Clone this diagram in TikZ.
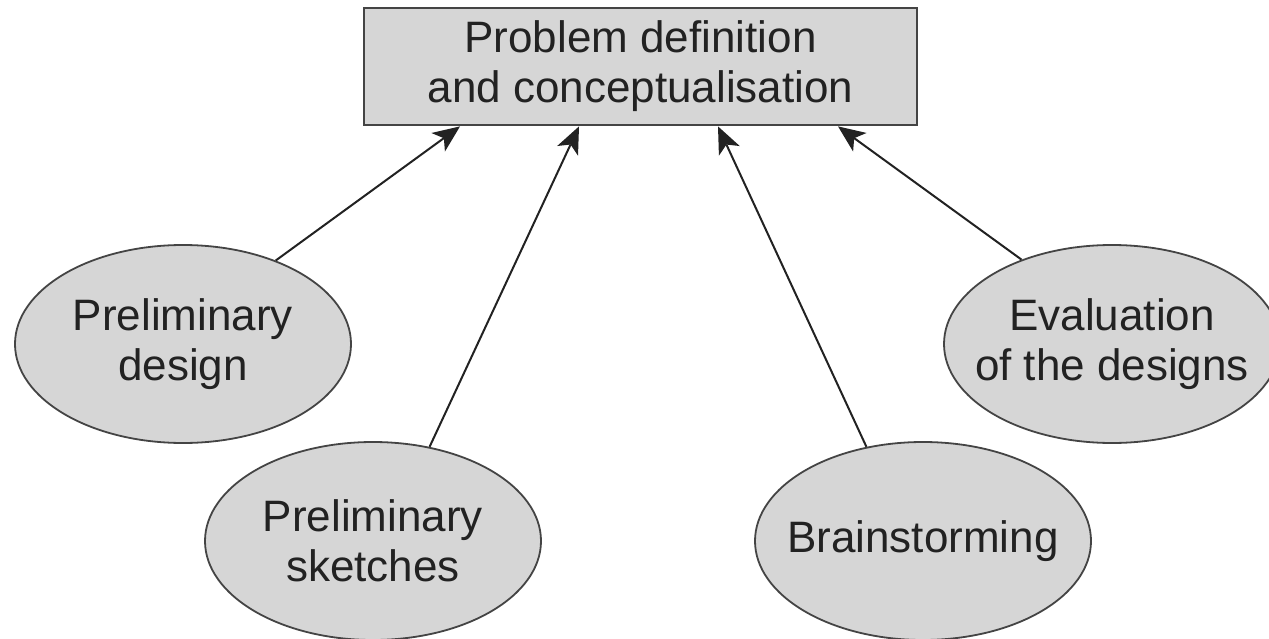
\documentclass[tikz,border=0pt]{standalone}
\usepackage{fontspec}
\setmainfont{Liberation Sans}
\usetikzlibrary{shapes.geometric,arrows.meta}
\definecolor{boxfill}{HTML}{D6D6D6}
\definecolor{edge}{HTML}{444444}
\definecolor{ink}{HTML}{222222}
\begin{document}
\begin{tikzpicture}[x=1pt,y=-1pt,
  idea/.style={ellipse, draw=edge, line width=1.8pt, fill=boxfill,
    minimum width=336pt, minimum height=198pt, inner sep=0pt},
  words/.style={font=\fontsize{44}{50}\selectfont, text=ink, align=center, inner sep=0pt},
  goalbox/.style={rectangle, draw=edge, line width=2.8pt, fill=boxfill,
    minimum width=553pt, minimum height=117pt, inner sep=0pt},
  flow/.style={draw=ink, line width=2pt},
  flowtip/.style={-{Stealth[length=27pt,width=23pt,inset=7pt,line width=0pt]}}]
\useasboundingbox (0,0) rectangle (1269,639);

% central box
\node[goalbox] (goal) at (640.5,66.5) {};
\node[words] (goaltext) at (goal) {Problem definition\\and conceptualisation};

% surrounding ellipses
\node[idea] (pd) at (183,344) {};
\node[idea] (ps) at (373,541) {};
\node[idea] (bs) at (923,541) {};
\node[idea] (ev) at (1112,344) {};
\node[words] (pdtext) at (pd) {Preliminary\\design};
\node[words] (pstext) at (ps) {Preliminary\\sketches};
\node[words] (bstext) at (bs) {Brainstorming};
\node[words] (evtext) at (ev) {Evaluation\\of the designs};

% arrow targets along the lower edge of the box
\coordinate (g1) at ([xshift=-180.5pt]goal.south);
\coordinate (g2) at ([xshift=-61.5pt]goal.south);
\coordinate (g3) at ([xshift=77.5pt]goal.south);
\coordinate (g4) at ([xshift=197.5pt]goal.south);

% connectors
\draw[flow,flowtip] (pd.42) -- (g1);
\draw[flow,flowtip] (ps.59) -- (g2);
\draw[flow,flowtip] (bs.121) -- (g3);
\draw[flow,flowtip] (ev.137.7) -- (g4);
\end{tikzpicture}
\end{document}
